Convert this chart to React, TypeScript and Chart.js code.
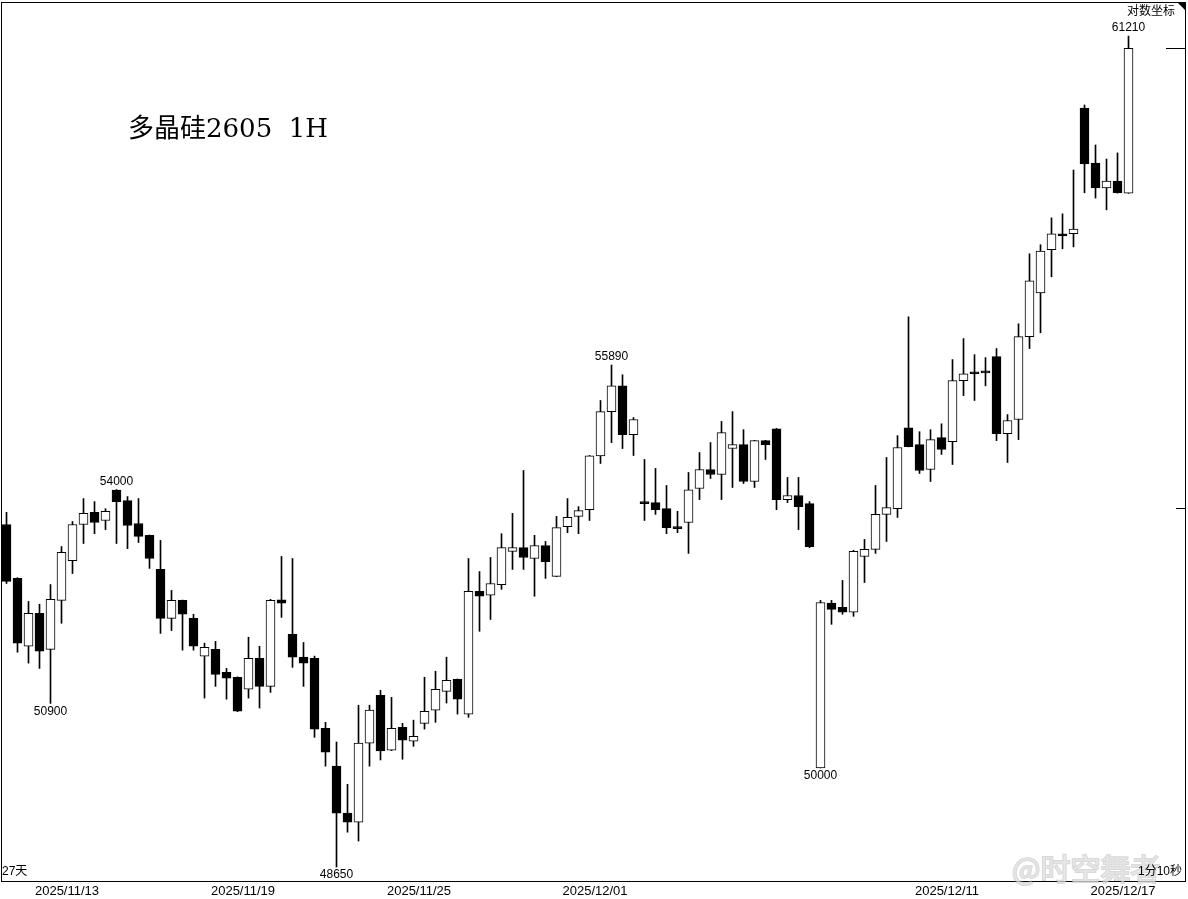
import React, { useEffect, useRef } from "react";
import { Chart, registerables } from "chart.js";

Chart.register(...registerables);

// ---- Data (hourly candles, 多晶硅2605) ----
const opens = [
  53480, 52690, 51710, 52185, 51665, 52370, 52950, 53480, 53660, 53540,
  53990, 53835, 53495, 53320, 52820, 52110, 52370, 52110, 51570, 51665,
  51340, 51270, 51100, 51540, 51140, 52380, 51880, 51555, 51540, 50550,
  50025, 49380, 49255, 50345, 51015, 50245, 50565, 50370, 50620, 50805,
  51070, 51240, 50750, 52500, 52445, 52600, 53085, 53140, 52980, 53170,
  52720, 53450, 53600, 53700, 54505, 55175, 55570, 54825, 53820, 53805,
  53715, 53450, 53510, 54015, 54300, 54225, 54615, 54675, 54120, 54735,
  54915, 53850, 53910, 53790, 50000, 52330, 52270, 52200, 53010, 53115,
  53630, 53715, 54930, 54675, 54300, 54780, 54720, 55650, 55770, 55785,
  56020, 54840, 55055, 56330, 57015, 57700, 57955, 57955, 60005, 59100,
  58695, 58805, 58610,
];
const highs = [
  53660, 52700, 52355, 52315, 52600, 53155, 53525, 53865, 53820, 53715,
  54000, 53895, 53865, 53325, 53245, 52515, 52375, 52170, 51755, 51780,
  51395, 51275, 51840, 51710, 52385, 53010, 52980, 51765, 51570, 50635,
  50360, 49775, 50875, 50875, 51085, 50985, 50620, 50665, 51270, 51355,
  51555, 51245, 52980, 52790, 52995, 53345, 53645, 54285, 53320, 53230,
  53600, 53865, 53745, 54510, 55345, 55890, 55740, 55085, 54450, 54315,
  54060, 53675, 54255, 54555, 54705, 55025, 55175, 54900, 54740, 54740,
  54920, 54180, 54180, 53820, 52370, 52370, 52660, 53100, 53260, 54060,
  54480, 54810, 56640, 54870, 54900, 54990, 55975, 56300, 56050, 56005,
  56145, 55130, 56530, 57635, 57780, 58210, 58275, 58985, 60055, 59395,
  59165, 59265, 61210,
];
const lows = [
  52615, 51625, 51470, 51395, 50900, 52040, 52760, 53200, 53345, 53405,
  53200, 53125, 53215, 52835, 51895, 51935, 51655, 51655, 50975, 51140,
  50960, 50785, 50975, 50835, 51055, 52125, 51410, 51140, 50425, 50025,
  48650, 49120, 49000, 50025, 50110, 50240, 50120, 50300, 50540, 50635,
  50905, 50750, 50705, 51925, 52095, 52530, 52820, 52820, 52430, 52690,
  52715, 53360, 53345, 53540, 54390, 54705, 54615, 54510, 53540, 53630,
  53345, 53360, 53055, 53850, 54165, 53850, 54030, 54090, 54030, 54450,
  53700, 53805, 53405, 53140, 50000, 52025, 52170, 52140, 52630, 53055,
  53230, 53585, 54640, 54240, 54120, 54525, 54375, 55420, 55345, 55570,
  54735, 54405, 54750, 56145, 56390, 57270, 57715, 57745, 58615, 58530,
  58340, 58610, 58605,
];
const closes = [
  52645, 51755, 52185, 51640, 52385, 53070, 53480, 53645, 53510, 53675,
  53820, 53465, 53305, 52980, 52110, 52370, 52170, 51710, 51695, 51310,
  51255, 50790, 51540, 51140, 52370, 52330, 51555, 51470, 50540, 50220,
  49380, 49255, 50345, 50805, 50235, 50550, 50385, 50440, 50790, 51100,
  51225, 50960, 52500, 52430, 52615, 53140, 53140, 52995, 53170, 52935,
  53435, 53585, 53685, 54505, 55175, 55570, 54825, 55055, 53790, 53700,
  53435, 53420, 53995, 54300, 54225, 54855, 54675, 54120, 54735, 54675,
  53850, 53910, 53745, 53155, 52340, 52240, 52200, 53085, 53115, 53630,
  53730, 54630, 54645, 54285, 54750, 54600, 55650, 55755, 55755, 55770,
  54840, 55040, 56330, 57205, 57680, 57955, 57920, 58030, 59085, 58695,
  58805, 58615, 61005,
];

// Date labels and the candle slot each one is centred on
const dateLabels = ["2025/11/13", "2025/11/19", "2025/11/25", "2025/12/01", "2025/12/11", "2025/12/17"];
const dateLabelSlots = [5.5, 21.5, 37.5, 53.5, 85.5, 101.5];

// Candles whose extreme price is printed on the chart
const extremeMarkIndex = [10, 4, 30, 55, 74, 102];
const extremeMarkKind = ["high", "low", "low", "high", "low", "high"];

// Extra price mark on the right edge
const rightTickPrices = [53730];

const titleText = "多晶硅2605  1H";
const scaleNote = "对数坐标";
const spanNote = "27天";
const timeNote = "1分10秒";
const watermark = "@时空舞者";

const yMin = 48462;
const yMax = 61772;
const xMin = -0.5;
const xMax = 107.136;

const overlayPlugin = {
  id: "overlay",
  afterDatasetsDraw(chart: any) {
    const { ctx, chartArea: a } = chart;
    const xs = chart.scales.x;
    const ys = chart.scales.y;
    ctx.save();

    // frame
    ctx.strokeStyle = "#000";
    ctx.lineWidth = 1;
    ctx.strokeRect(a.left + 0.5, a.top - 0.5, a.right - a.left, a.bottom - a.top + 1);

    // top-right triangle
    ctx.fillStyle = "#000";
    ctx.beginPath();
    ctx.moveTo(a.right - 8, a.top - 1);
    ctx.lineTo(a.right, a.top - 1);
    ctx.lineTo(a.right, a.top + 7);
    ctx.closePath();
    ctx.fill();

    // last price line and right ticks
    const last = closes.length - 1;
    const yl = Math.round(ys.getPixelForValue(closes[last])) + 0.5;
    ctx.beginPath();
    ctx.moveTo(a.right - 19, yl);
    ctx.lineTo(a.right, yl);
    rightTickPrices.forEach((p) => {
      const yy = Math.round(ys.getPixelForValue(p)) + 0.5;
      ctx.moveTo(a.right - 9, yy);
      ctx.lineTo(a.right, yy);
    });
    ctx.stroke();

    // extreme price labels
    ctx.font = '12px "Liberation Sans", "DejaVu Sans", sans-serif';
    ctx.textAlign = "center";
    ctx.textBaseline = "middle";
    ctx.fillStyle = "#000";
    extremeMarkIndex.forEach((i, k) => {
      const px = xs.getPixelForValue(i);
      if (extremeMarkKind[k] === "high") {
        ctx.fillText(String(highs[i]), px, ys.getPixelForValue(highs[i]) - 8);
      } else {
        ctx.fillText(String(lows[i]), px, ys.getPixelForValue(lows[i]) + 8);
      }
    });

    // date labels
    ctx.font = '13px "Liberation Sans", "DejaVu Sans", sans-serif';
    dateLabels.forEach((lab, k) => {
      ctx.fillText(lab, xs.getPixelForValue(dateLabelSlots[k]), a.bottom + 10);
    });

    // notes
    ctx.font = '12px "Liberation Sans", "Noto Sans CJK SC", sans-serif';
    ctx.textAlign = "right";
    ctx.fillText(scaleNote, a.right - 10, a.top + 9);
    ctx.textAlign = "left";
    ctx.fillText(spanNote, a.left + 1, a.bottom - 9);

    // title
    ctx.font = '26px "DejaVu Serif", "Noto Sans CJK SC", serif';
    ctx.textAlign = "left";
    ctx.fillText(titleText, 128, 130);

    // watermark
    ctx.font = '30px "Noto Sans CJK SC", sans-serif';
    ctx.textAlign = "left";
    ctx.lineWidth = 2;
    ctx.strokeStyle = "rgba(170,170,170,0.45)";
    ctx.fillStyle = "rgba(235,235,235,0.6)";
    ctx.strokeText(watermark, 1012, a.bottom - 12);
    ctx.fillText(watermark, 1012, a.bottom - 12);

    ctx.font = '12px "Liberation Sans", "Noto Sans CJK SC", sans-serif';
    ctx.textAlign = "right";
    ctx.fillStyle = "#000";
    ctx.fillText(timeNote, a.right - 3, a.bottom - 9);

    ctx.restore();
  },
};

export default function App() {
  const ref = useRef<HTMLCanvasElement | null>(null);

  useEffect(() => {
    document.body.style.margin = "0";
    const canvas = ref.current;
    if (!canvas) return;
    const idx = opens.map((_, i) => i);
    const wickData = idx.map((i) => ({ x: i, y: [lows[i], highs[i]] }));
    const bodyData = idx.map((i) => ({
      x: i,
      y: [Math.min(opens[i], closes[i]), Math.max(opens[i], closes[i])],
    }));
    const bodyFill = idx.map((i) => (closes[i] > opens[i] ? "#ffffff" : "#000000"));

    const chart = new Chart(canvas, {
      type: "bar",
      data: {
        datasets: [
          {
            data: wickData as any,
            backgroundColor: "#000",
            borderWidth: 0,
            barThickness: 1,
            grouped: false,
            order: 2,
          },
          {
            data: bodyData as any,
            backgroundColor: bodyFill,
            borderColor: "#000",
            borderWidth: 1,
            borderSkipped: false,
            barThickness: 9,
            minBarLength: 2,
            grouped: false,
            order: 1,
          },
        ],
      },
      options: {
        animation: false,
        responsive: false,
        devicePixelRatio: 1,
        layout: { padding: { left: 1, right: 3, top: 3, bottom: 18 } },
        plugins: { legend: { display: false }, tooltip: { enabled: false } },
        scales: {
          x: {
            type: "linear",
            min: xMin,
            max: xMax,
            offset: false,
            bounds: "data",
            display: false,
          },
          y: {
            type: "logarithmic",
            min: yMin,
            max: yMax,
            bounds: "data",
            display: false,
          },
        },
      } as any,
      plugins: [overlayPlugin],
    });
    return () => chart.destroy();
  }, []);

  return (
    <div style={{ width: 1188, height: 899, background: "#fff" }}>
      <canvas ref={ref} width={1188} height={899} style={{ display: "block" }} />
    </div>
  );
}
